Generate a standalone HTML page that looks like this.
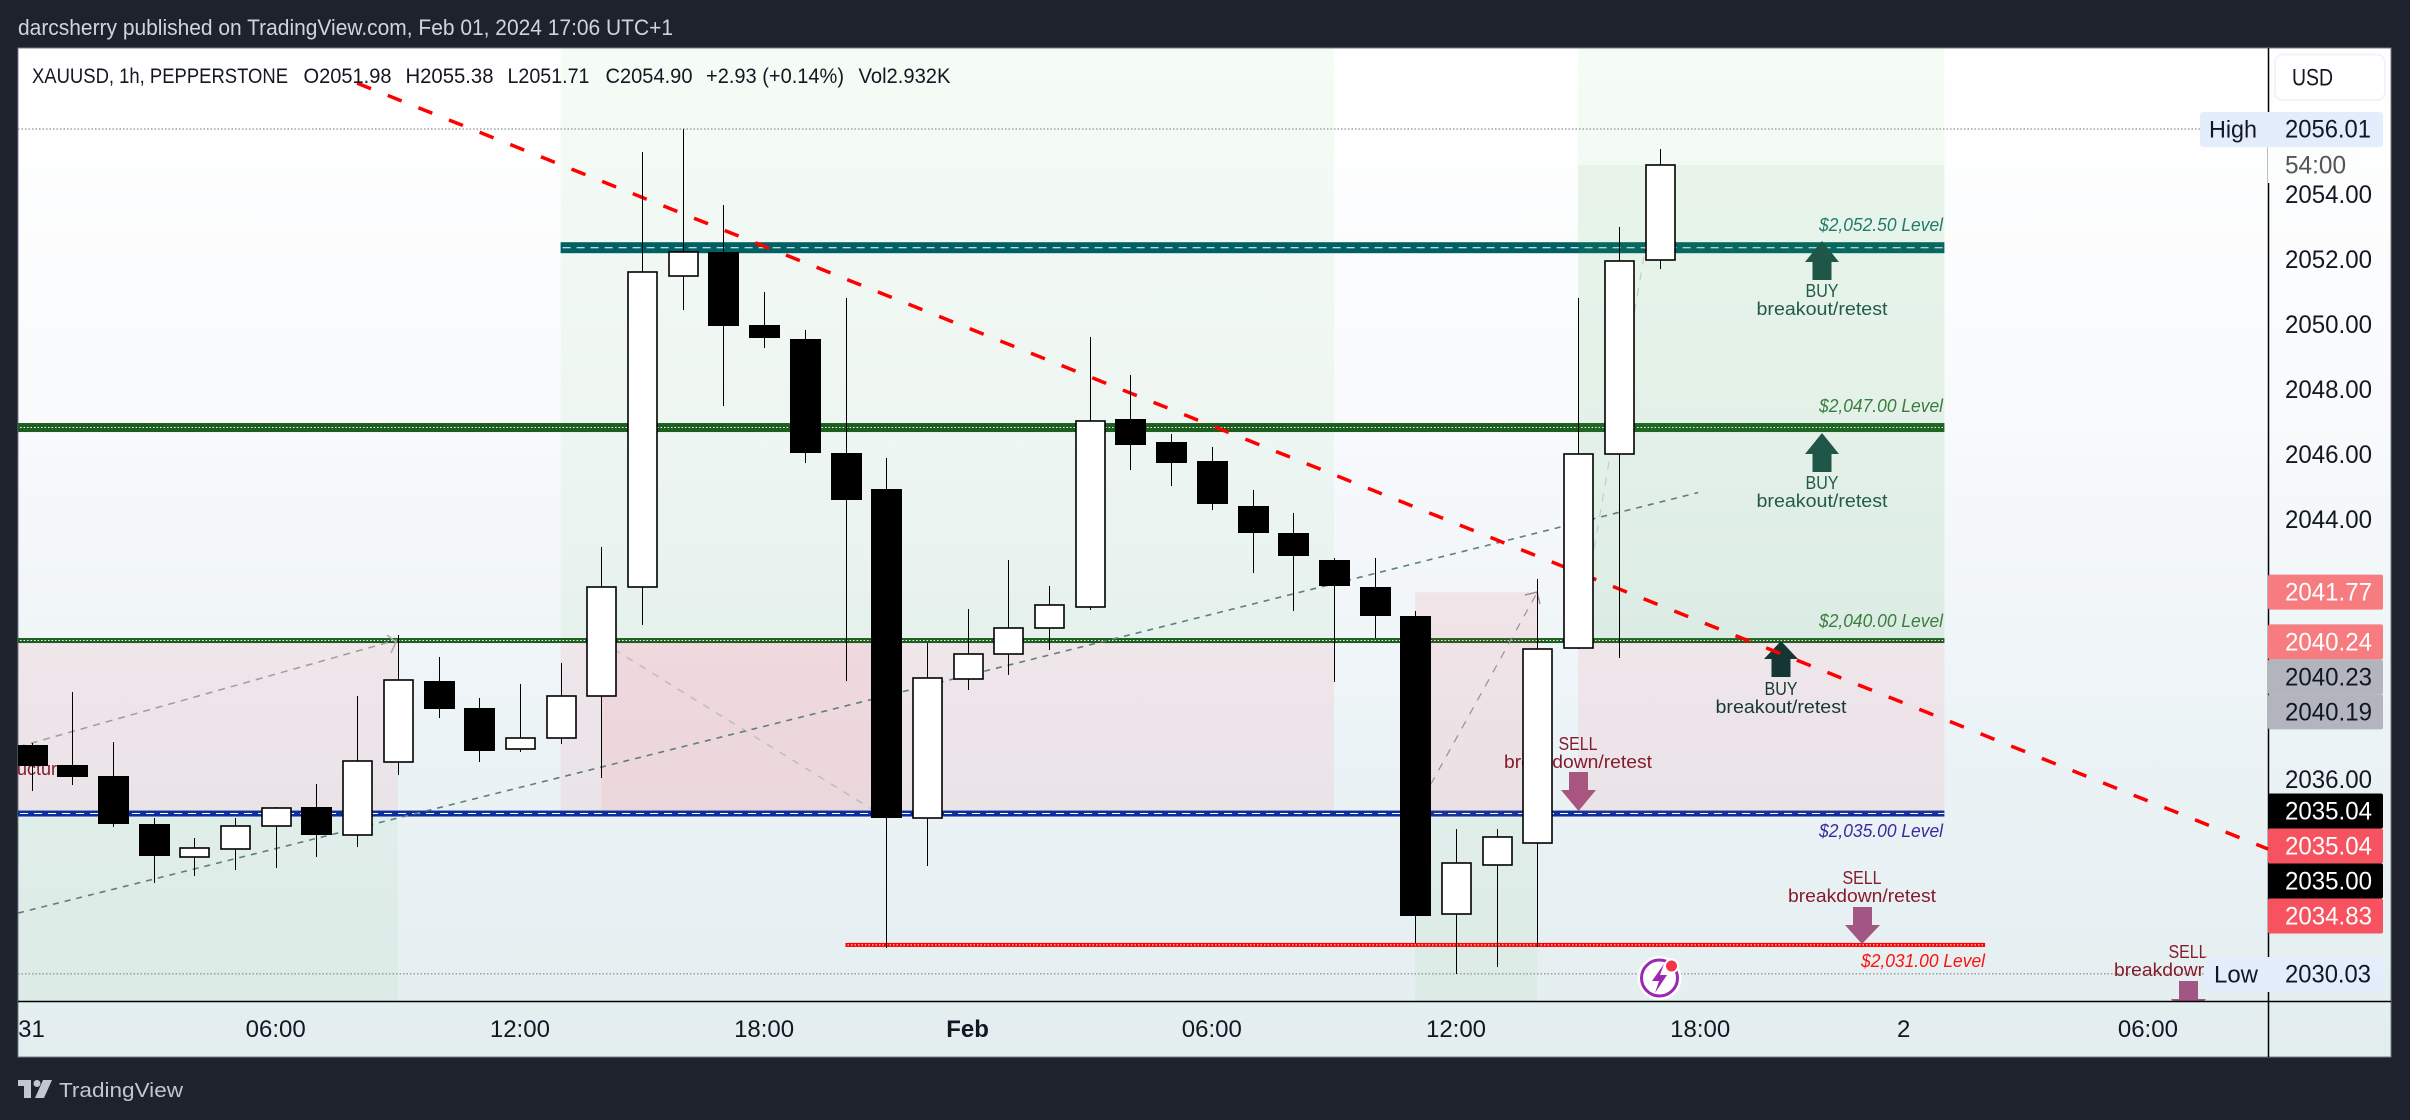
<!DOCTYPE html>
<html lang="en">
<head>
<meta charset="utf-8">
<title>XAUUSD 1h chart</title>
<style>
html,body{margin:0;padding:0;background:#1e222d;width:2410px;height:1120px;overflow:hidden}
svg{display:block}
text{font-family:"Liberation Sans",sans-serif}
</style>
</head>
<body>
<svg id="chart" xmlns="http://www.w3.org/2000/svg" width="2410" height="1120" viewBox="0 0 2410 1120">
<defs>
<linearGradient id="bgGrad" x1="0" y1="0" x2="0" y2="1">
<stop offset="0" stop-color="#ffffff"/>
<stop offset="0.08" stop-color="#fefefe"/>
<stop offset="0.37" stop-color="#f8fafc"/>
<stop offset="0.68" stop-color="#ecf3f6"/>
<stop offset="1" stop-color="#e3eeef"/>
</linearGradient>
<clipPath id="plotClip"><rect x="18" y="48" width="2250" height="953"/></clipPath>
<clipPath id="paneClip"><rect x="18" y="48" width="2373" height="1009"/></clipPath>
</defs>

<rect x="0" y="0" width="2410" height="1120" fill="#1e222d"/>
<text x="18" y="35" font-size="22" fill="#d1d4dc" textLength="655" lengthAdjust="spacingAndGlyphs">darcsherry published on TradingView.com, Feb 01, 2024 17:06 UTC+1</text>
<rect x="18" y="48" width="2373" height="1009" fill="url(#bgGrad)" stroke="#787b86" stroke-width="1"/>

<g clip-path="url(#plotClip)">
  <g id="zonesBack"></g>
  <g id="levels"></g>
  <g id="zonesFront"></g>
  <g id="extrema"></g>

  <g font-size="18">
    <text x="1819" y="231" font-style="italic" fill="#22796f" textLength="124" lengthAdjust="spacingAndGlyphs">$2,052.50 Level</text>
    <text x="1819" y="412" font-style="italic" fill="#3a7d3e" textLength="124" lengthAdjust="spacingAndGlyphs">$2,047.00 Level</text>
    <text x="1819" y="627" font-style="italic" fill="#3a7d3e" textLength="124" lengthAdjust="spacingAndGlyphs">$2,040.00 Level</text>
    <text x="1819" y="837" font-style="italic" fill="#3a2a9e" textLength="124" lengthAdjust="spacingAndGlyphs">$2,035.00 Level</text>
    <text x="1861" y="967" font-style="italic" fill="#ff1010" textLength="124" lengthAdjust="spacingAndGlyphs">$2,031.00 Level</text>

    <polygon points="1822,241 1839,262 1831.5,262 1831.5,280 1812.5,280 1812.5,262 1805,262" fill="#1f5647"/>
    <text x="1822" y="297" text-anchor="middle" fill="#235a4a" textLength="33" lengthAdjust="spacingAndGlyphs">BUY</text>
    <text x="1822" y="315" text-anchor="middle" fill="#235a4a" textLength="131" lengthAdjust="spacingAndGlyphs">breakout/retest</text>

    <polygon points="1822,433 1839,454 1831.5,454 1831.5,472 1812.5,472 1812.5,454 1805,454" fill="#1f5647"/>
    <text x="1822" y="489" text-anchor="middle" fill="#235a4a" textLength="33" lengthAdjust="spacingAndGlyphs">BUY</text>
    <text x="1822" y="507" text-anchor="middle" fill="#235a4a" textLength="131" lengthAdjust="spacingAndGlyphs">breakout/retest</text>

    <polygon points="1781,641 1798,659 1790.5,659 1790.5,677 1771.5,677 1771.5,659 1764,659" fill="#153632"/>
    <text x="1781" y="695" text-anchor="middle" fill="#17392f" textLength="33" lengthAdjust="spacingAndGlyphs">BUY</text>
    <text x="1781" y="713" text-anchor="middle" fill="#17392f" textLength="131" lengthAdjust="spacingAndGlyphs">breakout/retest</text>

    <text x="1578" y="750" text-anchor="middle" fill="#861b2c" textLength="39" lengthAdjust="spacingAndGlyphs">SELL</text>
    <text x="1578" y="768" text-anchor="middle" fill="#861b2c" textLength="148" lengthAdjust="spacingAndGlyphs">breakdown/retest</text>
    <polygon points="1578.5,811 1561,790 1569,790 1569,772 1588,772 1588,790 1596,790" fill="#a85680"/>

    <text x="1862" y="884" text-anchor="middle" fill="#861b2c" textLength="39" lengthAdjust="spacingAndGlyphs">SELL</text>
    <text x="1862" y="902" text-anchor="middle" fill="#861b2c" textLength="148" lengthAdjust="spacingAndGlyphs">breakdown/retest</text>
    <polygon points="1862,944 1845,925 1853,925 1853,907 1872,907 1872,925 1880,925" fill="#a25683"/>

    <text x="2188" y="958" text-anchor="middle" fill="#861b2c" textLength="39" lengthAdjust="spacingAndGlyphs">SELL</text>
    <text x="2114" y="976" fill="#861b2c" textLength="148" lengthAdjust="spacingAndGlyphs">breakdown/retest</text>
    <polygon points="2188,1020 2171,999 2179,999 2179,981 2198,981 2198,999 2206,999" fill="#a25683"/>

    <text x="-3" y="775" fill="#861b2c" textLength="70" lengthAdjust="spacingAndGlyphs">structure</text>
  </g>

  <g id="trends"></g>
  <g fill="none">
    <path d="M387,635 L396,642 L391,653" stroke="#b0a8aa" stroke-width="1.5"/>
    <path d="M1525,595 L1537,592 L1540,604" stroke="#9a9094" stroke-width="1.5"/>
  </g>
  <g id="candles"></g>
</g>

<line x1="18" y1="1001.5" x2="2391" y2="1001.5" stroke="#000" stroke-width="1.5"/>
<line x1="2268.5" y1="48" x2="2268.5" y2="1057" stroke="#000" stroke-width="1.5"/>

<g clip-path="url(#paneClip)" id="timeAxis"></g>
<g id="priceAxis"></g>

<g>
  <circle cx="1659.5" cy="978" r="22" fill="#ffffff"/>
  <circle cx="1659.5" cy="978" r="18" fill="#fff" stroke="#9c27b0" stroke-width="3"/>
  <polygon points="1664,964 1652,981 1659,981 1655,993 1667,975 1660,975" fill="#9c27b0"/>
  <circle cx="1671.5" cy="966" r="6.5" fill="#f23645" stroke="#fff" stroke-width="2"/>
</g>

<g>
  <rect x="2275" y="54.5" width="110" height="45.5" rx="8" fill="#ffffff" stroke="#f0f3fa" stroke-width="2"/>
  <text x="2292" y="85.5" font-size="24" fill="#131722" textLength="41" lengthAdjust="spacingAndGlyphs">USD</text>
</g>

<g>
  <rect x="2200" y="112" width="183" height="35" rx="3" fill="#e3edfb"/>
  <text x="2209" y="137.5" font-size="24" fill="#131722" textLength="48" lengthAdjust="spacingAndGlyphs">High</text>
  <text x="2285" y="137.5" font-size="25" fill="#131722" textLength="86" lengthAdjust="spacingAndGlyphs">2056.01</text>
</g>
<rect x="2268" y="147" width="89" height="36" fill="#fcfdfd"/>
<text x="2285" y="173.5" font-size="25" fill="#555555" textLength="61" lengthAdjust="spacingAndGlyphs">54:00</text>

<g>
  <rect x="2204" y="957" width="179" height="35" rx="3" fill="#e3edfb"/>
  <text x="2214" y="982.5" font-size="24" fill="#131722" textLength="44" lengthAdjust="spacingAndGlyphs">Low</text>
  <text x="2285" y="982.5" font-size="25" fill="#131722" textLength="86" lengthAdjust="spacingAndGlyphs">2030.03</text>
</g>

<g font-size="21" fill="#131722">
  <text x="32" y="83" textLength="256" lengthAdjust="spacingAndGlyphs">XAUUSD, 1h, PEPPERSTONE</text>
  <text x="303.5" y="83" textLength="88" lengthAdjust="spacingAndGlyphs">O2051.98</text>
  <text x="405.5" y="83" textLength="88" lengthAdjust="spacingAndGlyphs">H2055.38</text>
  <text x="507.5" y="83" textLength="82" lengthAdjust="spacingAndGlyphs">L2051.71</text>
  <text x="605.5" y="83" textLength="87" lengthAdjust="spacingAndGlyphs">C2054.90</text>
  <text x="706" y="83" textLength="138" lengthAdjust="spacingAndGlyphs">+2.93 (+0.14%)</text>
  <text x="858.5" y="83" textLength="92" lengthAdjust="spacingAndGlyphs">Vol2.932K</text>
</g>

<g fill="#c4c6cd">
  <path d="M18,1080H31V1098H24V1086H18Z"/>
  <circle cx="37" cy="1083.5" r="3.5"/>
  <polygon points="43,1080 52,1080 44,1098 35,1098"/>
  <text x="59" y="1097" font-size="20" textLength="124" lengthAdjust="spacingAndGlyphs">TradingView</text>
</g>
</svg>

<script>
// ----- chart data -----
const opens  = [2037.07,2036.45,2036.11,2034.64,2033.62,2033.87,2034.58,2035.16,2034.30,2036.55,2039.04,2038.21,2036.94,2037.28,2038.57,2041.93,2051.49,2052.23,2049.98,2049.55,2046.05,2044.94,2034.82,2039.10,2039.87,2040.67,2041.31,2047.09,2046.39,2045.80,2044.42,2043.59,2042.76,2041.93,2041.03,2031.87,2033.38,2034.05,2040.05,2046.02,2051.98];
const highs  = [2037.13,2038.70,2037.16,2034.82,2034.21,2034.82,2035.16,2035.87,2038.57,2040.45,2039.77,2038.51,2038.94,2039.59,2043.16,2055.30,2056.01,2053.67,2051.00,2049.83,2050.81,2045.89,2040.20,2041.25,2042.76,2041.96,2049.61,2048.45,2046.63,2046.23,2044.91,2044.20,2042.82,2042.82,2041.19,2034.48,2034.48,2042.17,2050.81,2053.00,2055.38];
const lows   = [2035.65,2035.84,2034.55,2032.82,2033.04,2033.22,2033.29,2033.62,2033.93,2036.15,2037.90,2036.55,2036.85,2037.10,2036.05,2040.76,2050.44,2047.49,2049.28,2045.74,2039.04,2030.83,2033.35,2038.76,2039.22,2039.99,2041.22,2045.52,2045.03,2044.29,2042.36,2041.19,2039.01,2040.36,2030.98,2030.03,2030.24,2030.86,2040.02,2039.74,2051.71];
const closes = [2036.42,2036.08,2034.64,2033.65,2033.90,2034.58,2035.13,2034.30,2036.58,2039.07,2038.17,2036.88,2037.28,2038.57,2041.93,2051.61,2052.23,2049.95,2049.58,2046.05,2044.60,2034.82,2039.13,2039.87,2040.67,2041.37,2047.03,2046.29,2045.74,2044.48,2043.59,2042.88,2041.96,2041.03,2031.81,2033.44,2034.24,2040.02,2046.02,2051.95,2054.90];

const priceTicks = [2054,2052,2050,2048,2046,2044,2036];
const timeTickBars = [0,6,12,18,23,29,35,41,46,52];
const timeTickLabels = ["31","06:00","12:00","18:00","Feb","06:00","12:00","18:00","2","06:00"];

const levelPrices = [2052.36,2046.83,2040.28,2034.96,2030.92];
const extremePrices = [2056.01,2030.03];
const badgeValues = [2041.77,2040.24,2040.23,2040.19,2035.04,2035.04,2035.00,2034.83];

const redTrendBars = [8,54.95];
const redTrendPrices = [2057.42,2033.87];
const upTrendBars = [-0.33,40.95];
const upTrendPrices = [2031.90,2044.83];
const leftTrendBars = [-0.33,8.98];
const leftTrendPrices = [2037.01,2040.30];
const fallTrendBars = [14,21];
const fallTrendPrices = [2040.25,2034.82];
const steepTrendBars = [34,37];
const steepTrendPrices = [2035.00,2041.77];
const lightTrendBars = [38,40];
const lightTrendPrices = [2040.20,2054.90];

// ----- axis functions -----
const PX_PER_UNIT = 32.52;
function xAt(bar){ return 31.5 + 40.7 * bar; }
function yAt(price){ return 129 + (2056.01 - price) * PX_PER_UNIT; }

const NS = 'http://www.w3.org/2000/svg';
function mk(tag, attrs, parent){
  const el = document.createElementNS(NS, tag);
  for (const k in attrs) el.setAttribute(k, attrs[k]);
  parent.appendChild(el);
  return el;
}
const PLOT_TOP = 48, PLOT_BOTTOM = 1001;
const zb = document.getElementById('zonesBack');
const zf = document.getElementById('zonesFront');
const lv = document.getElementById('levels');
const ex = document.getElementById('extrema');
const tr = document.getElementById('trends');
const cg = document.getElementById('candles');
const ta = document.getElementById('timeAxis');
const pa = document.getElementById('priceAxis');

function zone(parent, barA, barB, yA, yB, fill, name){
  const el = mk('rect', {x:xAt(barA), y:yA, width:xAt(barB)-xAt(barA), height:yB-yA, fill:fill}, parent);
  
  
}
const GREEN = 'rgba(76,175,80,0.055)';
const PINK = 'rgba(240,50,80,0.075)';
const y2040 = yAt(levelPrices[2]);
const y2035 = yAt(levelPrices[3]);

zone(zb, -0.33, 9, y2040, y2035, PINK, 'left-pink-zone');
zone(zb, -0.33, 9, y2035, PLOT_BOTTOM, GREEN, 'left-green-zone');
zone(zb, 13, 32, PLOT_TOP, y2040, GREEN, 'middle-green-zone');
zone(zb, 13, 32, y2040, y2035, PINK, 'middle-pink-zone');
zone(zb, 14, 21, y2040, y2035, PINK, 'middle-deep-pink-zone');

function level(price, barA, barB, thickness, color, dash, name){
  const y = yAt(price);
  const band = mk('rect', {x:xAt(barA), y:y-thickness/2, width:xAt(barB)-xAt(barA), height:thickness, fill:color}, lv);
  
  
  const mid = mk('line', {x1:xAt(barA)+2, y1:y, x2:xAt(barB), y2:y, stroke:'#ffffff', 'stroke-width':1, 'stroke-dasharray':dash}, lv);
  
  
}
level(levelPrices[0], 13, 47, 11, '#006064', '8 6', 'level-2052');
level(levelPrices[1], -0.33, 47, 9, '#1b5e20', '1.5 2', 'level-2047');
level(levelPrices[2], -0.33, 47, 5, '#1b5e20', '1.5 2', 'level-2040');
level(levelPrices[3], -0.33, 47, 6, '#0d2f9c', '8 6', 'level-2035');
level(levelPrices[4], 20, 48, 4, '#ff0000', '1.5 2', 'level-2031');

zone(zf, 38, 47, PLOT_TOP, y2040, GREEN, 'right-green-zone');
zone(zf, 38, 47, yAt(closes[40]), y2040, 'rgba(76,175,80,0.06)', 'right-strong-green-zone');
zone(zf, 38, 47, y2040, y2035, PINK, 'right-pink-zone');
zone(zf, 34, 37, yAt(badgeValues[0]), y2035, 'rgba(240,50,80,0.09)', 'small-pink-zone');
zone(zf, 34, 37, y2035, PLOT_BOTTOM, GREEN, 'small-green-zone');

extremePrices.forEach(function(p, i){
  const el = mk('line', {x1:18, y1:yAt(p), x2:2204, y2:yAt(p), stroke:'#777', 'stroke-width':1, 'stroke-dasharray':'1.5 2'}, ex);
  
  
});

function trend(bars, prices, color, width, dash, name){
  const el = mk('line', {x1:xAt(bars[0]), y1:yAt(prices[0]), x2:xAt(bars[1]), y2:yAt(prices[1]), stroke:color, 'stroke-width':width, 'stroke-dasharray':dash}, tr);
  
  
}
trend(leftTrendBars, leftTrendPrices, '#a39a9d', 1.5, '7 6', 'left-trend-line');
trend(fallTrendBars, fallTrendPrices, '#bdbdbd', 1.5, '7 8', 'falling-trend-line');
trend(steepTrendBars, steepTrendPrices, '#9a9094', 1.2, '8 8', 'steep-trend-line');
trend(lightTrendBars, lightTrendPrices, '#c4ccc8', 1.2, '8 8', 'light-steep-trend-line');
trend(upTrendBars, upTrendPrices, '#5f7f7a', 1.6, '6 6', 'rising-trend-line');
trend(redTrendBars, redTrendPrices, '#ff0000', 3.5, '15 18', 'red-downtrend-line');

opens.forEach(function(o, i){
  const c = closes[i];
  const up = c >= o;
  const cx = Math.round(xAt(i));
  const wick = mk('rect', {x:cx, y:Math.round(yAt(highs[i])), width:1, height:Math.round(yAt(lows[i]))-Math.round(yAt(highs[i])), fill:'#000', 'shape-rendering':'crispEdges'}, cg);
  
  
  const top = Math.round(yAt(Math.max(o, c)));
  const bot = Math.round(yAt(Math.min(o, c)));
  const body = up
    ? mk('rect', {x:cx-14, y:top, width:29, height:Math.max(bot-top,1), fill:'#fff', stroke:'#000', 'stroke-width':1.6}, cg)
    : mk('rect', {x:cx-15, y:top, width:31, height:Math.max(bot-top,1), fill:'#000', 'shape-rendering':'crispEdges'}, cg);
  
  
});

timeTickBars.forEach(function(b, i){
  const t = mk('text', {x:xAt(b), y:1037, 'font-size':24, fill:'#131722', 'text-anchor':'middle', 'font-weight': timeTickLabels[i] === 'Feb' ? 'bold' : 'normal'}, ta);
  t.textContent = timeTickLabels[i];
  
  
});

priceTicks.forEach(function(p){
  const t = mk('text', {x:2285, y:yAt(p)+8.5, 'font-size':25, fill:'#131722', textLength:87, lengthAdjust:'spacingAndGlyphs'}, pa);
  t.textContent = p.toFixed(2);
  
  
});

const BADGE_H = 35;
let lastCenter = -1e9;
badgeValues.forEach(function(v, i){
  const center = Math.max(yAt(v), lastCenter + BADGE_H);
  lastCenter = center;
  const fill = (i === 0 || i === 1) ? '#f77c80' : (i === 2 || i === 3) ? '#b2b5be' : (i === 4 || i === 6) ? '#000000' : '#f7525f';
  const ink = (i === 2 || i === 3) ? '#131722' : '#ffffff';
  const r = mk('rect', {x:2268, y:center-BADGE_H/2, width:115, height:BADGE_H, rx:2, fill:fill}, pa);
  
  
  const t = mk('text', {x:2285, y:center+8.5, 'font-size':25, fill:ink, textLength:87, lengthAdjust:'spacingAndGlyphs'}, pa);
  t.textContent = v.toFixed(2);
  
  
});
</script>
</body>
</html>
